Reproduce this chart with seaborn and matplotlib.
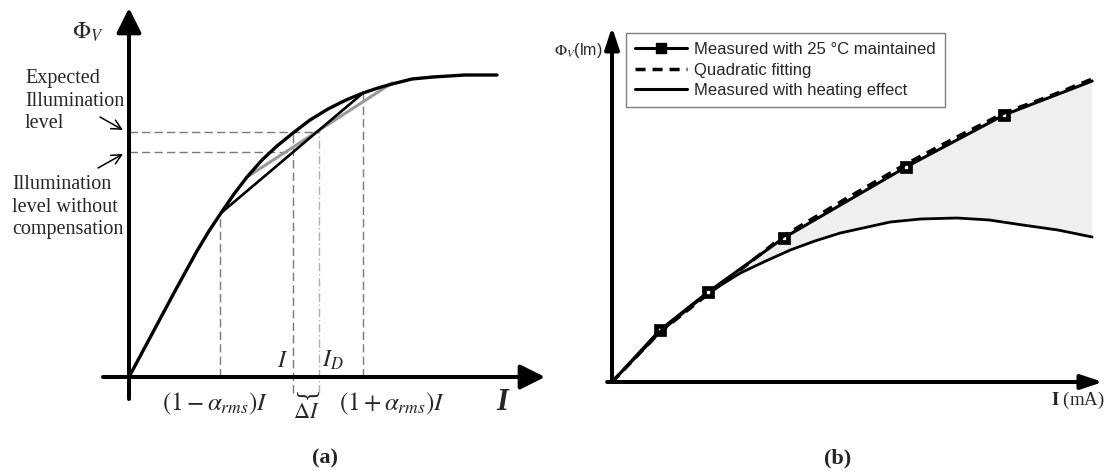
import numpy as np
import seaborn as sns
import matplotlib.pyplot as plt
from matplotlib.lines import Line2D

# (a) schematic flux vs current, arbitrary units
flux_current = [0, 0.23, 0.46, 0.68, 0.80, 0.92, 1.05, 1.18, 1.33, 1.48, 1.64,
                1.81, 1.99, 2.17, 2.34, 2.49, 2.63, 2.83, 3.04, 3.36, 3.68]
flux_level = [0, 0.43, 0.86, 1.26, 1.46, 1.64, 1.83, 2.00, 2.17, 2.31, 2.44,
              2.57, 2.68, 2.77, 2.84, 2.89, 2.93, 2.98, 3.00, 3.02, 3.02]
chord_black_x = [0.92, 2.34]
chord_black_y = [1.64, 2.84]
chord_grey_x = [1.18, 2.63]
chord_grey_y = [2.00, 2.94]
i_low, i_set, i_d, i_high = 0.91, 1.64, 1.90, 2.34
level_expected, level_uncomp = 2.45, 2.25

# (b) measured curves
current_ma = [0, 49, 98, 175, 300, 400, 490]
flux_25c = [0, 52, 90, 144, 215, 267, 301]
fit_current = [0, 49, 98, 140, 175, 240, 300, 350, 400, 450, 490]
fit_flux = [0, 50, 88, 119, 146, 184, 218, 244, 269, 287, 303]
heat_current = [0, 49, 80, 98, 131, 157, 182, 207, 233, 284, 315, 352, 385, 419, 455, 490]
heat_flux = [0, 50, 75, 89, 109, 121, 132, 141, 149, 160, 163, 164, 162, 157, 152, 145]

sns.set_style('white')
plt.rcParams['font.family'] = ['Liberation Serif', 'DejaVu Serif']
plt.rcParams['mathtext.fontset'] = 'stix'
plt.rcParams['lines.solid_joinstyle'] = 'round'

fig = plt.figure(figsize=(11.1, 4.75), dpi=100)
ax_a = fig.add_axes([0, 0, 0.5, 1])
ax_b = fig.add_axes([0.5, 0, 0.5, 1])
for ax in (ax_a, ax_b):
    ax.axis('off')


def axis_arrow(ax, start, end, lw, hl, hw):
    ax.annotate('', xy=end, xytext=start,
                arrowprops=dict(arrowstyle=f'-|>,head_length={hl},head_width={hw}',
                                lw=lw, color='k', shrinkA=0, shrinkB=0,
                                mutation_scale=1))


# ---------- panel (a) ----------
ax_a.set_xlim(-1.29, 4.26)
ax_a.set_ylim(-0.98, 3.77)

guide = dict(color='#7a7a7a', lw=1, linestyle=(0, (6, 3)))
ax_a.hlines(level_expected, 0, i_d, **guide)
ax_a.hlines(level_uncomp, 0, i_set, **guide)
ax_a.vlines(i_low, 0, 1.64, **guide)
ax_a.vlines(i_set, -0.16, level_expected, **guide)
ax_a.vlines(i_high, 0, 2.84, **guide)
ax_a.vlines(i_d, -0.16, 2.47, color='#b0b0b0', lw=1, linestyle=(0, (6, 2, 1, 2)))

sns.lineplot(x=chord_grey_x, y=chord_grey_y, ax=ax_a, color='#999999', lw=2.2, sort=False)
sns.lineplot(x=chord_black_x, y=chord_black_y, ax=ax_a, color='k', lw=1.9, sort=False)
sns.lineplot(x=flux_current, y=flux_level, ax=ax_a, color='k', lw=2.4, sort=False)

axis_arrow(ax_a, (0, -0.22), (0, 3.69), 2.9, 15, 7.5)
axis_arrow(ax_a, (-0.26, 0), (4.16, 0), 2.9, 15, 7.5)

ax_a.text(-0.41, 3.45, r'$\Phi_V$', fontsize=17, ha='center', va='center')
ax_a.text(-1.04, 2.76, 'Expected\nIllumination\nlevel', fontsize=14.5,
          ha='left', va='center', linespacing=1.28)
ax_a.text(-1.17, 1.70, 'Illumination\nlevel without\ncompensation', fontsize=14.5,
          ha='left', va='center', linespacing=1.28)
arr = dict(arrowstyle='->,head_length=0.5,head_width=0.25', lw=1.1, color='k',
           shrinkA=0, shrinkB=0, mutation_scale=14)
ax_a.annotate('', xy=(-0.06, 2.47), xytext=(-0.29, 2.60), arrowprops=arr)
ax_a.annotate('', xy=(-0.06, 2.23), xytext=(-0.31, 2.09), arrowprops=arr)

ax_a.text(1.54, 0.10, r'$I$', fontsize=17, ha='center', va='baseline')
ax_a.text(2.04, 0.10, r'$I_D$', fontsize=17, ha='center', va='baseline')
ax_a.text(0.86, -0.27, r'$(1-\alpha_{rms})I$', fontsize=18, ha='center', va='center')
ax_a.text(2.63, -0.27, r'$(1+\alpha_{rms})I$', fontsize=18, ha='center', va='center')
ax_a.text(1.77, -0.16, '{', fontsize=18, rotation=90, ha='center', va='center')
ax_a.text(1.77, -0.37, r'$\Delta I$', fontsize=16, ha='center', va='center')
ax_a.text(3.73, -0.26, 'I', fontsize=22, style='italic', weight='bold',
          ha='center', va='center')
ax_a.text(1.96, -0.81, '(a)', fontsize=16, weight='bold', ha='center', va='center')

# ---------- panel (b) ----------
ax_b.set_xlim(-58.2, 508.2)
ax_b.set_ylim(-93, 382)

ax_b.fill(np.concatenate([current_ma, heat_current[::-1]]),
          np.concatenate([flux_25c, heat_flux[::-1]]),
          color='#efefef', lw=0, zorder=0)

sns.lineplot(x=heat_current, y=heat_flux, ax=ax_b, color='k', lw=2.0, sort=False)
sns.lineplot(x=current_ma, y=flux_25c, ax=ax_b, color='k', lw=2.2, sort=False,
             marker='s', markevery=[1, 2, 3, 4, 5], ms=5.5, mfc='white', mec='k', mew=3.4)
sns.lineplot(x=fit_current, y=fit_flux, ax=ax_b, color='k', lw=2.5, sort=False,
             linestyle=(0, (2.9, 2.0)))

axis_arrow(ax_b, (0, 0), (0, 355), 2.9, 13, 4.3)
axis_arrow(ax_b, (-5, 0), (501, 0), 2.9, 13, 4.3)

handles = [
    Line2D([], [], color='k', lw=2.2, marker='s', ms=7.5, mfc='k', mec='k'),
    Line2D([], [], color='k', lw=2.5, linestyle=(0, (2.9, 2.0))),
    Line2D([], [], color='k', lw=2.2),
]
labels = ['Measured with 25 \u00b0C maintained', 'Quadratic fitting',
          'Measured with heating effect']
ax_b.legend(handles, labels, loc='upper left', bbox_to_anchor=(0.128, 0.9305),
            borderaxespad=0, frameon=True, fancybox=False, framealpha=1,
            edgecolor='#7f7f7f', handlelength=3.1, handletextpad=0.42,
            labelspacing=0.32, borderpad=0.55,
            prop={'family': 'Liberation Sans', 'size': 12})
ax_b.get_legend().get_frame().set_linewidth(1.0)

ax_b.text(-10, 332, r'$\Phi_V$(lm)', fontsize=11.5, family='Liberation Sans',
          ha='right', va='center')
ax_b.text(503, -18, r'$\mathbf{I}$ (mA)', fontsize=13.5, ha='right', va='center')
ax_b.text(230.6, -76, '(b)', fontsize=16, weight='bold', ha='center', va='center')

fig.savefig('out.png', dpi=100)
